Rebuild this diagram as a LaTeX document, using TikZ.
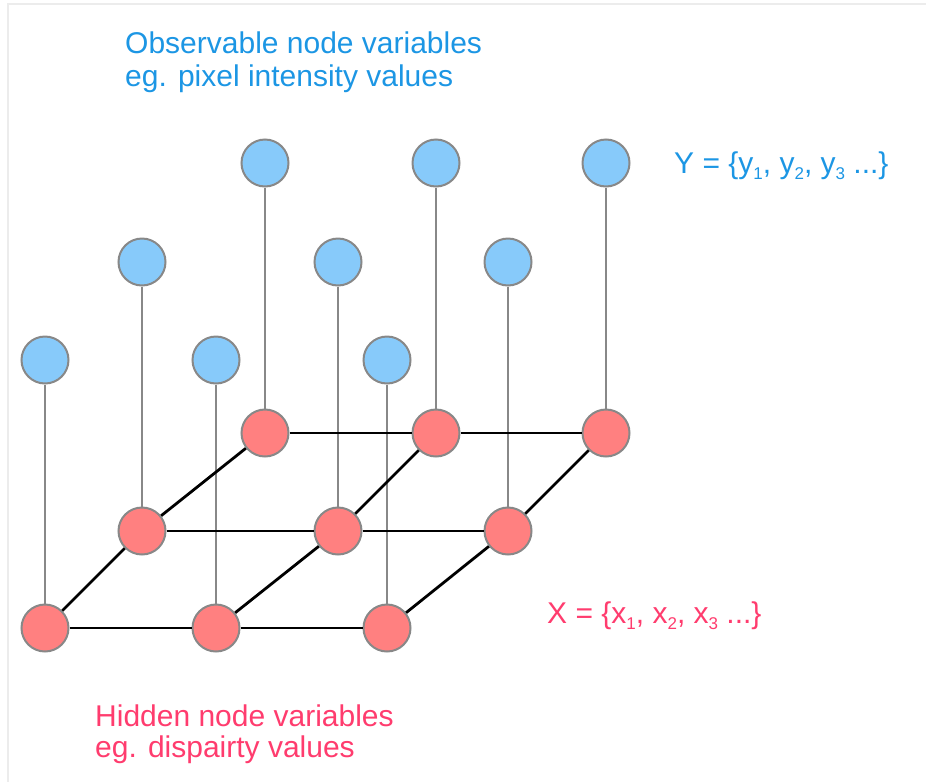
\documentclass[tikz,border=0pt]{standalone}
\usepackage{fontspec}
\setmainfont{Liberation Sans}
\usepackage{xcolor}
\definecolor{obsblue}{RGB}{135,202,250}
\definecolor{hidred}{RGB}{255,128,128}
\definecolor{rimgray}{RGB}{136,136,136}
\definecolor{txtblue}{RGB}{28,150,228}
\definecolor{txtred}{RGB}{255,60,110}
\definecolor{framegray}{RGB}{236,236,236}
\newcommand{\lowsub}[1]{\raisebox{-6pt}{\fontsize{17}{17}\selectfont #1}}

\begin{document}
\begin{tikzpicture}[x=1pt,y=-1pt,
  obs/.style={circle,draw=rimgray,fill=obsblue,line width=2pt,minimum size=47pt,inner sep=0pt},
  hid/.style={circle,draw=rimgray,fill=hidred,line width=2pt,minimum size=47pt,inner sep=0pt},
  gridline/.style={black,line width=2.8pt},
  stem/.style={rimgray,line width=2.3pt},
  lbl/.style={inner sep=0pt,align=left}]
  \useasboundingbox (0,0) rectangle (926,782);
  \draw[framegray,line width=2pt] (8,782) -- (8,4) -- (926,4);

  % hidden nodes (front, middle, back row)
  \node[hid] (x1) at (45,628) {};
  \node[hid] (x2) at (216,628) {};
  \node[hid] (x3) at (387,628) {};
  \node[hid] (x4) at (142,531) {};
  \node[hid] (x5) at (338,531) {};
  \node[hid] (x6) at (508,531) {};
  \node[hid] (x7) at (265,433) {};
  \node[hid] (x8) at (436,433) {};
  \node[hid] (x9) at (606,433) {};

  % observable nodes
  \node[obs] (y1) at (45,360) {};
  \node[obs] (y2) at (216,360) {};
  \node[obs] (y3) at (387,360) {};
  \node[obs] (y4) at (142,262) {};
  \node[obs] (y5) at (338,262) {};
  \node[obs] (y6) at (508,262) {};
  \node[obs] (y7) at (265,163) {};
  \node[obs] (y8) at (436,163) {};
  \node[obs] (y9) at (606,163) {};

  \draw[stem] (y1) -- (x1);
  \draw[stem] (y2) -- (x2);
  \draw[stem] (y3) -- (x3);
  \draw[stem] (y4) -- (x4);
  \draw[stem] (y5) -- (x5);
  \draw[stem] (y6) -- (x6);
  \draw[stem] (y7) -- (x7);
  \draw[stem] (y8) -- (x8);
  \draw[stem] (y9) -- (x9);

  \draw[gridline] (x1) -- (x2) -- (x3);
  \draw[gridline] (x4) -- (x5) -- (x6);
  \draw[gridline] (x7) -- (x8) -- (x9);
  \draw[gridline] (x1) -- (x4) -- (x7);
  \draw[gridline] (x2) -- (x5) -- (x8);
  \draw[gridline] (x3) -- (x6) -- (x9);

  % labels
  \node[lbl,text=txtblue,anchor=north west,font=\fontsize{30}{33}\selectfont] (obstext) at (125,32)
    {Observable node variables\\eg. pixel intensity values};
  \node[lbl,text=txtblue,anchor=base west,font=\fontsize{30}{33}\selectfont] (yset) at (674,173)
    {Y = \{y\lowsub{1}, y\lowsub{2}, y\lowsub{3} ...\}};
  \node[lbl,text=txtred,anchor=base west,font=\fontsize{30}{33}\selectfont] (xset) at (547,623)
    {X = \{x\lowsub{1}, x\lowsub{2}, x\lowsub{3} ...\}};
  \node[lbl,text=txtred,anchor=north west,font=\fontsize{30}{31}\selectfont] (hidtext) at (95,705)
    {Hidden node variables\\eg. dispairty values};
\end{tikzpicture}
\end{document}
